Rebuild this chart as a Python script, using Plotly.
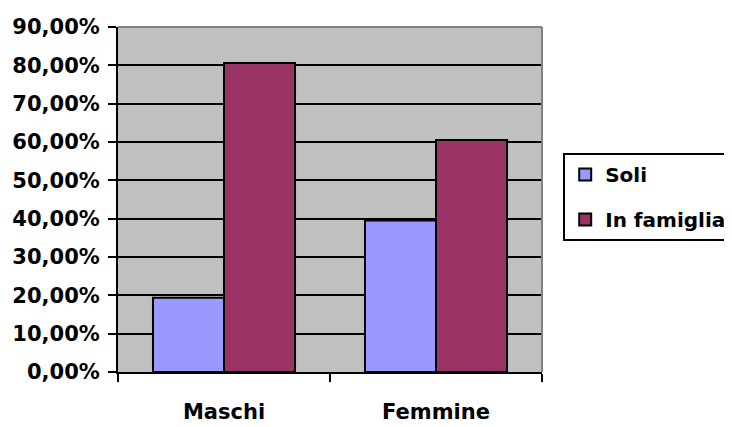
import plotly.graph_objects as go

categories = ["Maschi", "Femmine"]
soli = [0.194, 0.395]
in_famiglia = [0.806, 0.605]
series_names = ["Soli", "In famiglia"]
colors = ["#9999FF", "#993366"]

FONT = "DejaVu Sans"

fig = go.Figure()
for i, (name, vals) in enumerate(zip(series_names, [soli, in_famiglia])):
    fig.add_trace(go.Bar(
        x=categories, y=vals, name=name,
        marker=dict(color=colors[i], line=dict(color="black", width=2)),
        legendgroup=name,
    ))

# the page body has an 8px default margin, so the figure is drawn 8px in
fig.update_layout(
    width=724, height=419,
    margin=dict(l=110, r=190, t=19, b=55, autoexpand=False),
    paper_bgcolor="white", plot_bgcolor="#C0C0C0",
    separators=",.",
    barmode="group", bargap=0.33, bargroupgap=0,
    font=dict(family=FONT, size=21, color="black", weight="bold"),
    legend=dict(
        x=1.05, xanchor="left",
        y=0.635, yanchor="top",
        bordercolor="black", borderwidth=2, bgcolor="white",
        font=dict(family=FONT, size=20, color="black", weight="bold"),
        traceorder="grouped", tracegroupgap=16,
    ),
    showlegend=True,
)
fig.update_yaxes(
    range=[0, 0.9], dtick=0.1, tickformat=".2%",
    showgrid=True, gridcolor="black", gridwidth=2,
    showline=True, linecolor="black", linewidth=2,
    ticks="outside", ticklen=8, tickwidth=2, tickcolor="black",
    ticklabelstandoff=4, zeroline=False,
    tickfont=dict(family=FONT, size=21, color="black", weight="bold"),
)
fig.update_xaxes(
    showline=True, linecolor="black", linewidth=2,
    ticks="outside", ticklen=8, tickwidth=2, tickcolor="black",
    tickson="boundaries", ticklabelstandoff=20,
    tickfont=dict(family=FONT, size=21, color="black", weight="bold"),
)
fig.add_shape(type="line", xref="x domain", yref="y domain",
              x0=0, x1=1, y0=1, y1=1, line=dict(color="#808080", width=2))
fig.add_shape(type="line", xref="x domain", yref="y domain",
              x0=1, x1=1, y0=0, y1=1, line=dict(color="#808080", width=2))

fig.write_html("out.html")
